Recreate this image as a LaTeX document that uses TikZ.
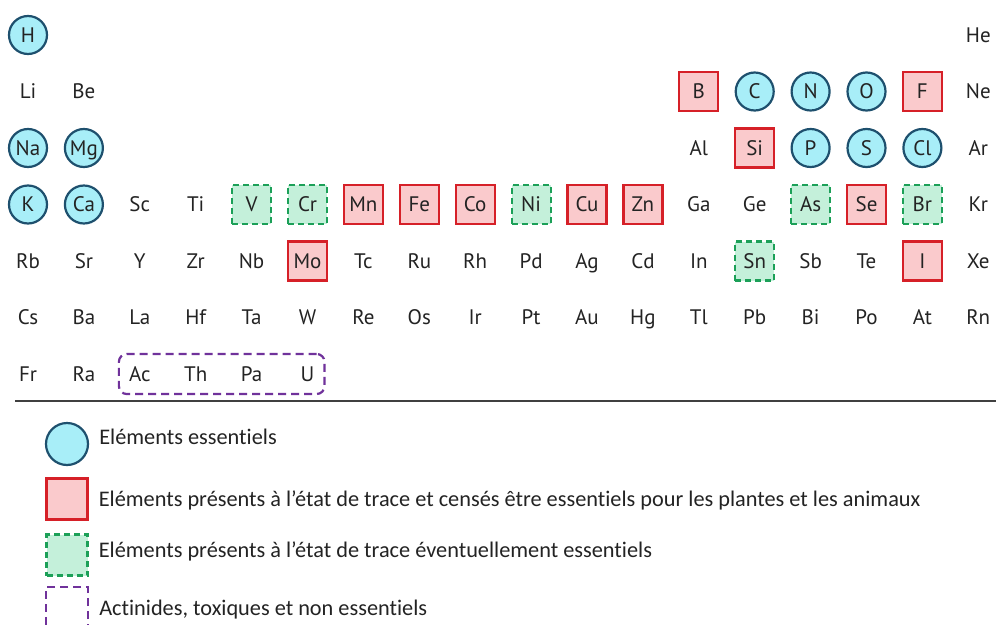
\documentclass[tikz,border=0pt]{standalone}
\usepackage{fontspec}
\setmainfont{Carlito}[Ligatures={NoCommon}]
\newfontfamily\elfont{PT Sans}
\usetikzlibrary{positioning,fit}
\definecolor{essfill}{RGB}{168,238,248}
\definecolor{essline}{RGB}{30,80,110}
\definecolor{tracefill}{RGB}{250,202,204}
\definecolor{traceline}{RGB}{214,32,40}
\definecolor{maybefill}{RGB}{196,240,218}
\definecolor{maybeline}{RGB}{28,160,88}
\definecolor{actinline}{RGB}{112,50,155}
\definecolor{eltext}{RGB}{35,35,35}
\tikzset{
	elem/.style={font=\elfont\fontsize{21}{21}\selectfont, text=eltext, inner sep=0pt, text height=14.7pt, text depth=0pt},
	plain/.style={elem},
	ess/.style={elem, circle, draw=essline, fill=essfill, line width=2.2pt, minimum size=38pt},
	trace/.style={elem, rectangle, draw=traceline, fill=tracefill, line width=2.2pt, minimum size=39pt},
	maybe/.style={elem, rectangle, draw=maybeline, fill=maybefill, line width=2.2pt, dash pattern=on 6pt off 4pt, minimum size=39pt},
	actin/.style={draw=actinline, line width=2.2pt, dash pattern=on 8pt off 5pt, rounded corners=8pt},
	legtext/.style={font=\fontsize{22.3}{22.3}\selectfont, text=eltext, inner sep=0pt, text height=14.4pt, text depth=0pt}
}
\begin{document}
\begin{tikzpicture}[x=1pt,y=-1pt]
	\useasboundingbox[fill=white] (0,0) rectangle (996,624);
	\foreach \s/\c/\r/\t in {H/1/1/ess, He/18/1/plain,
		Li/1/2/plain, Be/2/2/plain, B/13/2/trace, C/14/2/ess, N/15/2/ess, O/16/2/ess, F/17/2/trace, Ne/18/2/plain,
		Na/1/3/ess, Mg/2/3/ess, Al/13/3/plain, Si/14/3/trace, P/15/3/ess, S/16/3/ess, Cl/17/3/ess, Ar/18/3/plain,
		K/1/4/ess, Ca/2/4/ess, Sc/3/4/plain, Ti/4/4/plain, V/5/4/maybe, Cr/6/4/maybe, Mn/7/4/trace, Fe/8/4/trace,
		Co/9/4/trace, Ni/10/4/maybe, Cu/11/4/trace, Zn/12/4/trace, Ga/13/4/plain, Ge/14/4/plain, As/15/4/maybe,
		Se/16/4/trace, Br/17/4/maybe, Kr/18/4/plain,
		Rb/1/5/plain, Sr/2/5/plain, Y/3/5/plain, Zr/4/5/plain, Nb/5/5/plain, Mo/6/5/trace, Tc/7/5/plain, Ru/8/5/plain,
		Rh/9/5/plain, Pd/10/5/plain, Ag/11/5/plain, Cd/12/5/plain, In/13/5/plain, Sn/14/5/maybe, Sb/15/5/plain,
		Te/16/5/plain, I/17/5/trace, Xe/18/5/plain,
		Cs/1/6/plain, Ba/2/6/plain, La/3/6/plain, Hf/4/6/plain, Ta/5/6/plain, W/6/6/plain, Re/7/6/plain, Os/8/6/plain,
		Ir/9/6/plain, Pt/10/6/plain, Au/11/6/plain, Hg/12/6/plain, Tl/13/6/plain, Pb/14/6/plain, Bi/15/6/plain,
		Po/16/6/plain, At/17/6/plain, Rn/18/6/plain,
		Fr/1/7/plain, Ra/2/7/plain, Ac/3/7/plain, Th/4/7/plain, Pa/5/7/plain, U/6/7/plain}{
		\node[\t] (\s) at ({28+55.9*(\c-1)},{35+56.5*(\r-1)}) {\s};
	}
	\node[actin, fit=(Ac)(U), inner xsep=10pt, inner ysep=12.5pt] (actinides) {};
	\coordinate (ruleL) at (15,401);
	\coordinate (ruleR) at (996,401);
	\draw[line width=2pt, black!75] (ruleL) -- (ruleR);
	\node[ess, minimum size=42pt] (lgEss) at (67,444) {};
	\node[trace, minimum size=41pt] (lgTrace) at (67,499) {};
	\node[maybe, minimum size=41pt] (lgMaybe) at (67,555) {};
	\node[actin, rounded corners=0pt, minimum size=42pt] (lgActin) at (67,608) {};
	\node[legtext, anchor=west, right=10pt of lgEss, yshift=7pt] (txtEss) {Eléments essentiels};
	\node[legtext, anchor=west, right=10pt of lgTrace] (txtTrace) {Eléments présents à l’état de trace et censés être essentiels pour les plantes et les animaux};
	\node[legtext, anchor=west, right=10pt of lgMaybe, yshift=5pt] (txtMaybe) {Eléments présents à l’état de trace éventuellement essentiels};
	\node[legtext, anchor=west, right=10pt of lgActin] (txtActin) {Actinides, toxiques et non essentiels};
\end{tikzpicture}
\end{document}
